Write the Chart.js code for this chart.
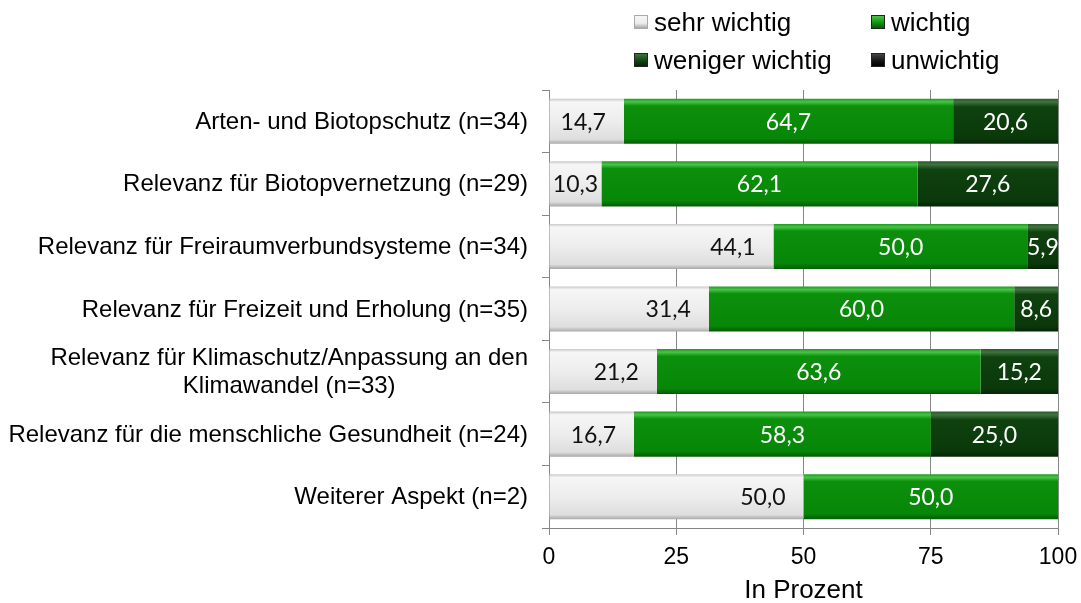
<!DOCTYPE html>
<html><head><meta charset="utf-8">
<script src="https://cdn.jsdelivr.net/npm/chart.js@4"></script>
<style>
html,body{margin:0;padding:0;background:#fff;}
#wrap{position:relative;width:1081px;height:603px;overflow:hidden;}
canvas{position:absolute;left:0;top:0;}
.leg{position:absolute;font:26px "Liberation Sans",Arial,sans-serif;color:#000;display:flex;align-items:center;white-space:nowrap;height:30px;}
.leg i{display:inline-block;width:14px;height:14px;margin-right:6px;box-sizing:border-box;}
</style></head>
<body><div id="wrap"><canvas id="c" width="1081" height="603"></canvas><div id="legend"></div></div>
<script>
const categories = [
  "Arten- und Biotopschutz (n=34)",
  "Relevanz für Biotopvernetzung (n=29)",
  "Relevanz für Freiraumverbundsysteme (n=34)",
  "Relevanz für Freizeit und Erholung (n=35)",
  ["Relevanz für Klimaschutz/Anpassung an den", "Klimawandel (n=33)"],
  "Relevanz für die menschliche Gesundheit (n=24)",
  "Weiterer Aspekt (n=2)"
];
const seriesNames = ["sehr wichtig", "wichtig", "weniger wichtig", "unwichtig"];
const sehrWichtig    = [14.7, 10.3, 44.1, 31.4, 21.2, 16.7, 50.0];
const wichtig        = [64.7, 62.1, 50.0, 60.0, 63.6, 58.3, 50.0];
const wenigerWichtig = [20.6, 27.6,  5.9,  8.6, 15.2, 25.0,  0.0];
const unwichtig      = [ 0.0,  0.0,  0.0,  0.0,  0.0,  0.0,  0.0];
const xTicks = [0, 25, 50, 75, 100];
const axisTitle = "In Prozent";

const gradStops = [
  [[0,'#c8c8c8'],[0.07,'#f6f6f6'],[0.5,'#ededed'],[0.9,'#dedede'],[1,'#a8a8a8']],
  [[0,'#1f9a1f'],[0.07,'#48c448'],[0.16,'#0c900c'],[0.88,'#078607'],[1,'#045a04']],
  [[0,'#2a5a2a'],[0.07,'#3f733f'],[0.18,'#0f420f'],[0.88,'#0a380a'],[1,'#052405']],
  [[0,'#333'],[0.1,'#444'],[0.2,'#111'],[1,'#000']]
];
const solid = ['#e8e8e8','#0a8a0a','#0d3d0d','#111111'];
const BAR_FRAC = 0.72;

function gradient(di){
  return function(c){
    const chart = c.chart, y = chart.scales && chart.scales.y;
    if (!y || c.dataIndex === undefined || !chart.chartArea) return solid[di];
    const band = Math.abs(y.getPixelForValue(1) - y.getPixelForValue(0));
    const th = band * BAR_FRAC;
    const cy = y.getPixelForValue(c.dataIndex);
    if (!isFinite(cy)) return solid[di];
    const g = chart.ctx.createLinearGradient(0, cy - th/2, 0, cy + th/2);
    gradStops[di].forEach(s => g.addColorStop(s[0], s[1]));
    return g;
  };
}

const seriesData = [sehrWichtig, wichtig, wenigerWichtig, unwichtig];

// HTML legend
const legPos = [[634,7],[871,7],[634,45],[871,45]];
const legEl = document.getElementById('legend');
seriesNames.forEach((n,i)=>{
  const d = document.createElement('div');
  d.className='leg';
  d.style.left = legPos[i][0]+'px';
  d.style.top = legPos[i][1]+'px';
  const st = gradStops[i];
  d.innerHTML = '<i style="background:linear-gradient(to bottom,'+st[1][1]+','+st[2][1]+' 60%,'+st[st.length-1][1]+');border:1px solid '+(i===0?'#aaa':'#222')+'"></i>'+n;
  legEl.appendChild(d);
});

const labelPlugin = {
  id:'vals',
  afterDatasetsDraw(chart){
    const ctx = chart.ctx;
    ctx.save();
    ctx.font = '23px Lato, "Open Sans", sans-serif';
    ctx.textBaseline = 'middle';
    chart.data.datasets.forEach((ds,di)=>{
      const meta = chart.getDatasetMeta(di);
      meta.data.forEach((el,i)=>{
        const v = ds.data[i];
        if (!v) return;
        const txt = v.toFixed(1).replace('.',',');
        const w = ctx.measureText(txt).width;
        const left = Math.min(el.x, el.base), right = Math.max(el.x, el.base);
        let x, align;
        if (di === 0) {
          x = right - 18; align = 'right';
          if (x - w < left + 2) { x = (left + right)/2; align = 'center'; }
        } else { x = (left + right)/2; align = 'center'; }
        ctx.textAlign = align;
        ctx.fillStyle = di === 0 ? '#111' : '#fff';
        ctx.fillText(txt, x, el.y + 1);
      });
    });
    ctx.restore();
  }
};

const yLabelPlugin = {
  id:'ylabels',
  afterDraw(chart){
    const s = chart.scales.y, ctx = chart.ctx;
    ctx.save();
    ctx.font = '24px "Liberation Sans", Arial, sans-serif';
    ctx.fillStyle = '#000';
    ctx.textBaseline = 'middle';
    ctx.textAlign = 'center';
    const right = 528, lh = 28;
    categories.forEach((lab,i)=>{
      const lines = Array.isArray(lab) ? lab : [lab];
      const cy = s.getPixelForValue(i);
      const maxW = Math.max(...lines.map(l=>ctx.measureText(l).width));
      lines.forEach((l,k)=>{
        ctx.fillText(l, right - maxW/2, cy + (k - (lines.length-1)/2)*lh + 1);
      });
    });
    ctx.restore();
  }
};

new Chart(document.getElementById('c'), {
  type:'bar',
  data:{
    labels: categories,
    datasets: seriesNames.map((n,i)=>({
      label:n, data:seriesData[i],
      backgroundColor: gradient(i),
      borderWidth:0,
      categoryPercentage: BAR_FRAC, barPercentage:1
    }))
  },
  options:{
    indexAxis:'y',
    responsive:false,
    animation:false,
    events:[],
    layout:{padding:{top:90,right:23,left:0,bottom:0}},
    plugins:{legend:{display:false},tooltip:{enabled:false}},
    scales:{
      x:{
        stacked:true, min:0, max:100,
        afterBuildTicks(s){ s.ticks = xTicks.map(v=>({value:v})); },
        afterFit(s){ s.height = 75; s.paddingLeft = 0; s.paddingRight = 0; },
        grid:{color:'#868686', lineWidth:1, tickLength:7},
        border:{color:'#868686', width:1},
        ticks:{color:'#000', font:{family:'"Liberation Sans", Arial, sans-serif', size:23}, padding:9, maxRotation:0},
        title:{display:true, text:axisTitle, color:'#000', font:{family:'"Liberation Sans", Arial, sans-serif', size:26}, padding:{top:0,bottom:-3}}
      },
      y:{
        stacked:true,
        afterFit(s){ s.width = 549; },
        grid:{display:true, drawOnChartArea:false, offset:true, tickLength:7, color:'#868686'},
        border:{color:'#868686', width:1},
        ticks:{display:false}
      }
    }
  },
  plugins:[labelPlugin, yLabelPlugin]
});
</script>
</body></html>
